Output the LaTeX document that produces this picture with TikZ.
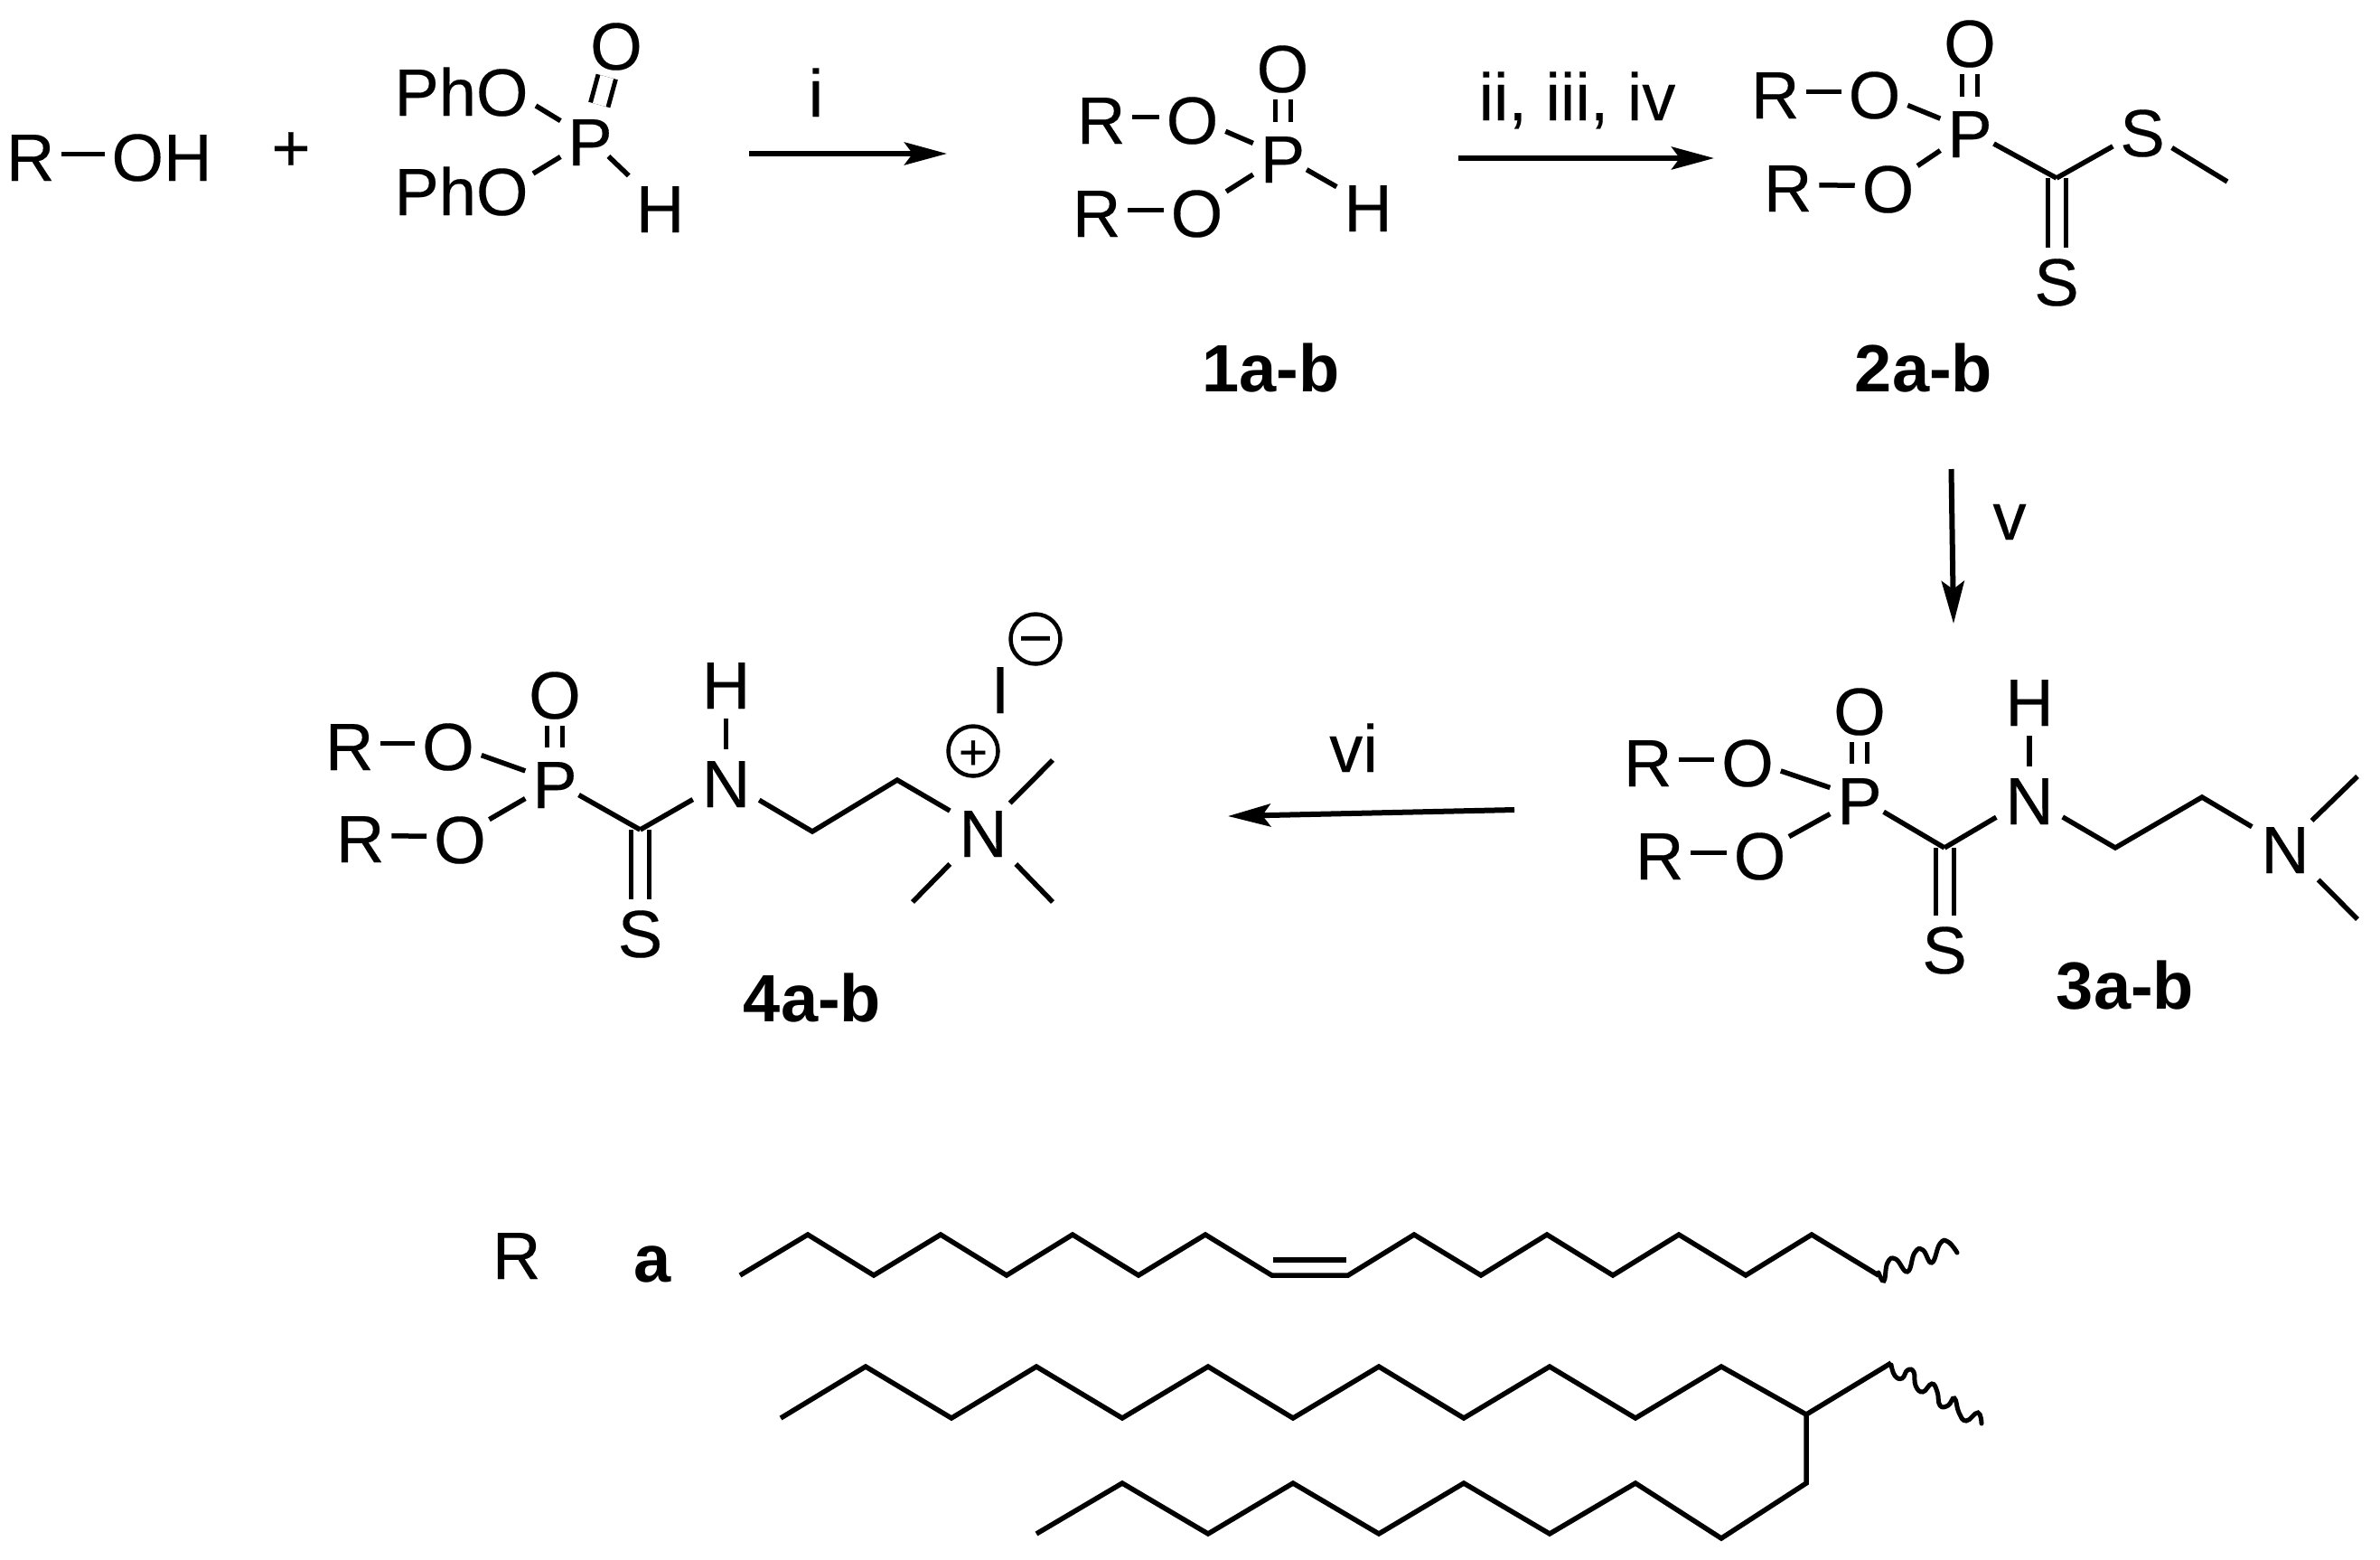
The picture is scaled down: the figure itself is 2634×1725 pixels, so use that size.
\documentclass[tikz,border=0pt]{standalone}
\usepackage{fontspec}
\setmainfont[FakeBold=0.25]{Liberation Sans}
\newfontfamily\boldlabel{Liberation Sans Bold}
\usetikzlibrary{arrows.meta}
\newcommand{\atomfont}{\fontsize{74}{80}\selectfont}
\tikzset{
  atom/.style={anchor=base,inner xsep=8pt,inner ysep=8pt,outer sep=0pt,text height=59pt,text depth=0pt,font=\atomfont},
  natom/.style={atom,inner xsep=10pt},
  lab/.style={anchor=base,inner sep=0pt,outer sep=0pt,font=\atomfont},
  blab/.style={anchor=base,inner sep=0pt,outer sep=0pt,font=\boldlabel\atomfont},
  bond/.style={line width=5.5pt,line cap=butt,line join=miter},
  dbl/.style={line width=5pt,double,double distance=12pt,line cap=butt},
  dblcs/.style={line width=5pt,double,double distance=15pt,line cap=butt,shorten >=-3pt},
  nh/.style={bond,shorten <=3pt,shorten >=-3pt},
  pc/.style={bond,shorten <=-7pt},
  lowo/.style={bond,shorten <=-5pt},
  meup/.style={bond,shorten <=-10pt},
  chain/.style={line width=5.5pt,line join=miter,line cap=butt},
  wavy/.style={line width=5pt,line cap=round},
  rxn/.style={line width=6pt,-{Stealth[length=47pt,width=25pt,inset=9pt]}},
  ring/.style={circle,draw,line width=4.5pt,minimum size=55pt,inner sep=0pt,outer sep=0pt},
}
\begin{document}
\begin{tikzpicture}[x=1pt,y=-1pt]
\useasboundingbox (0,0) rectangle (2634,1725);

% R-OH + (PhO)2P(O)H
\node[atom] (r0) at (33.7,200) {R};
\node[atom] (oh0) at (179,200) {OH};
\draw[bond] (r0) -- (oh0);
\node[lab] (plus0) at (322,189) {+};
\node[lab] (pho1) at (510.5,128) {PhO};
\node[lab] (pho2) at (510.5,238) {PhO};
\node[atom] (p0) at (653,183) {P};
\node[atom] (o0) at (682,77) {O};
\node[atom] (h0) at (730.5,257) {H};
\coordinate (pho1b) at (593,117);
\coordinate (pho2b) at (590,192);
\draw[bond] (pho1b) -- (p0);
\draw[bond] (pho2b) -- (p0);
\draw[dbl,double distance=15pt] (p0) -- (o0);
\draw[bond,shorten <=-17pt] (p0) -- (h0);

% arrow i
\coordinate (ai) at (829,170);
\coordinate (bi) at (1048,170);
\draw[rxn] (ai) -- (bi);
\node[lab] (li) at (903,129) {i};

% 1a-b
\node[atom] (r1a) at (1218.7,159) {R};
\node[atom] (o1a) at (1319.5,159) {O};
\node[atom] (r1b) at (1213.7,262) {R};
\node[atom] (o1b) at (1324.5,262) {O};
\node[atom] (p1) at (1419.5,202) {P};
\node[atom] (o1) at (1419.5,102) {O};
\node[atom] (h1) at (1514,256) {H};
\draw[bond] (r1a) -- (o1a);
\draw[bond] (r1b) -- (o1b);
\draw[bond] (o1a) -- (p1);
\draw[lowo] (o1b) -- (p1);
\draw[dbl] (p1) -- (o1);
\draw[pc] (p1) -- (h1);
\node[blab] (n1) at (1406.5,433) {1a-b};

% arrow ii,iii,iv
\coordinate (aii) at (1614,175);
\coordinate (bii) at (1897,175);
\draw[rxn] (aii) -- (bii);
\node[lab] (lii) at (1745.5,133) {ii, iii, iv};

% 2a-b
\node[atom] (r2a) at (1964.7,131) {R};
\node[atom] (o2a) at (2074.5,131) {O};
\node[atom] (r2b) at (1978.7,234) {R};
\node[atom] (o2b) at (2089.5,235) {O};
\node[atom] (p2) at (2180,174) {P};
\node[atom] (o2) at (2180,74) {O};
\coordinate (c2) at (2276,197);
\node[atom] (s2a) at (2371,173) {S};
\coordinate (me2) at (2465,201);
\node[atom] (s2b) at (2276,338) {S};
\draw[dblcs] (c2) -- (s2b);
\draw[bond] (r2a) -- (o2a);
\draw[bond] (r2b) -- (o2b);
\draw[bond] (o2a) -- (p2);
\draw[lowo] (o2b) -- (p2);
\draw[dbl] (p2) -- (o2);
\draw[pc] (p2) -- (c2);
\draw[bond] (c2) -- (s2a);
\draw[bond] (s2a) -- (me2);
\node[blab] (n2) at (2129,433) {2a-b};

% arrow v
\coordinate (av) at (2159.5,519);
\coordinate (bv) at (2162,690);
\draw[rxn] (av) -- (bv);
\node[lab] (lv) at (2224,597) {v};

% 3a-b
\node[atom] (r3a) at (1823.7,870) {R};
\node[atom] (o3a) at (1934,870) {O};
\node[atom] (r3b) at (1836.7,973) {R};
\node[atom] (o3b) at (1947.5,973) {O};
\node[atom] (p3) at (2058,912) {P};
\node[atom] (o3) at (2058,813) {O};
\coordinate (c3) at (2152,938);
\node[atom] (s3) at (2152,1077) {S};
\node[natom] (n3a) at (2246,912) {N};
\node[atom] (h3) at (2246,803) {H};
\coordinate (c3a) at (2341,938);
\coordinate (c3b) at (2437,882);
\node[natom] (n3b) at (2529,966) {N};
\coordinate (me3a) at (2609,859);
\coordinate (me3b) at (2609,1017);
\draw[dblcs] (c3) -- (s3);
\draw[bond] (r3a) -- (o3a);
\draw[bond] (r3b) -- (o3b);
\draw[bond] (o3a) -- (p3);
\draw[lowo] (o3b) -- (p3);
\draw[dbl] (p3) -- (o3);
\draw[pc] (p3) -- (c3);
\draw[bond] (c3) -- (n3a);
\draw[nh] (h3) -- (n3a);
\draw[bond] (n3a) -- (c3a) -- (c3b) -- (n3b);
\draw[meup] (n3b) -- (me3a);
\draw[bond] (n3b) -- (me3b);
\node[blab] (n3) at (2352,1116) {3a-b};

% arrow vi
\coordinate (avi) at (1676,896);
\coordinate (bvi) at (1359,903);
\draw[rxn] (avi) -- (bvi);
\node[lab] (lvi) at (1498,854) {vi};

% 4a-b
\node[atom] (r4a) at (386.7,852) {R};
\node[atom] (o4a) at (496,852) {O};
\node[atom] (r4b) at (398.7,954) {R};
\node[atom] (o4b) at (509,955) {O};
\node[atom] (p4) at (614,894) {P};
\node[atom] (o4) at (614,795) {O};
\coordinate (c4) at (708.5,918);
\node[atom] (s4) at (708.5,1059) {S};
\node[natom] (n4a) at (803.5,893) {N};
\node[atom] (h4) at (803.5,784) {H};
\coordinate (c4a) at (899,920);
\coordinate (c4b) at (993,863);
\node[natom] (n4b) at (1088,948) {N};
\coordinate (me4a) at (1165,841);
\coordinate (me4b) at (1010,998);
\coordinate (me4c) at (1165,998);
\draw[dblcs] (c4) -- (s4);
\draw[bond] (r4a) -- (o4a);
\draw[bond] (r4b) -- (o4b);
\draw[bond] (o4a) -- (p4);
\draw[lowo] (o4b) -- (p4);
\draw[dbl] (p4) -- (o4);
\draw[pc] (p4) -- (c4);
\draw[bond] (c4) -- (n4a);
\draw[nh] (h4) -- (n4a);
\draw[bond] (n4a) -- (c4a) -- (c4b) -- (n4b);
\draw[meup] (n4b) -- (me4a);
\draw[bond] (n4b) -- (me4b);
\draw[bond] (n4b) -- (me4c);
\node[ring] (plusring) at (1077,831) {};
\node[anchor=base,inner sep=0pt,font=\fontsize{55}{60}\selectfont] (plussign) at (1077,851) {+};
\node[lab] (iodide) at (1107,789) {I};
\node[ring] (minusring) at (1146,707) {};
\node[anchor=base,inner sep=0pt,font=\fontsize{65}{70}\selectfont] (minussign) at (1146,728) {−};
\node[blab] (n4) at (899,1130) {4a-b};

% R legend
\node[lab] (rr) at (571.7,1415) {R};
\node[blab] (ra) at (722.5,1418) {a};

% chain a
\draw[chain] (819,1411) -- (894,1366) -- (967,1411) -- (1041,1366) -- (1114,1411) -- (1187,1366) -- (1260,1411) -- (1334,1366) -- (1407.5,1411) -- (1492,1411) -- (1565,1366) -- (1639,1411) -- (1712,1366) -- (1785,1411) -- (1858,1366) -- (1932,1411) -- (2005,1366) -- (2079,1411);
\coordinate (dba) at (1409,1394);
\coordinate (dbb) at (1490,1394);
\draw[chain] (dba) -- (dbb);
\draw[wavy] plot[smooth,tension=.8] coordinates {(2079,1408) (2085,1417) (2089,1397) (2098,1393) (2111,1407) (2119,1386) (2128,1383) (2138,1397) (2147,1376) (2156,1374) (2166,1386)};

% chain b
\draw[chain] (864,1569) -- (958,1512) -- (1053,1569) -- (1147,1512) -- (1242,1569) -- (1337,1512) -- (1431,1569) -- (1526,1512) -- (1620,1569) -- (1715,1512) -- (1810,1569) -- (1905,1512) -- (1999,1565) -- (2093,1508);
\draw[chain] (1999,1565) -- (1999,1641) -- (1905,1702) -- (1810,1641) -- (1715,1697) -- (1620,1641) -- (1526,1697) -- (1431,1641) -- (1337,1697) -- (1242,1641) -- (1147,1697);
\draw[wavy] plot[smooth,tension=.8] coordinates {(2093,1510) (2097,1522) (2105,1525) (2111,1516) (2118,1518) (2120,1533) (2128,1540) (2138,1531) (2144,1540) (2147,1555) (2156,1555) (2163,1547) (2168,1563) (2176,1572) (2189,1563) (2193,1575)};
\end{tikzpicture}
\end{document}
